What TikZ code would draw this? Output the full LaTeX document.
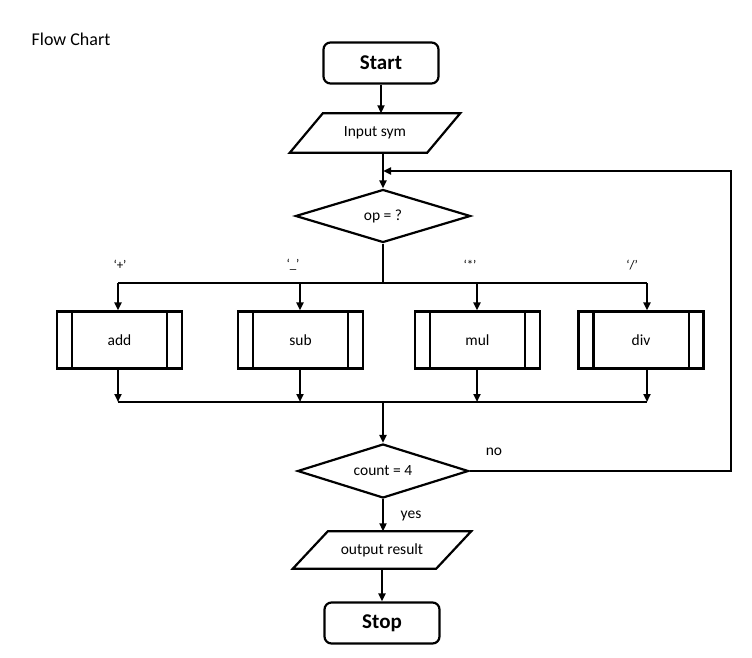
\documentclass[tikz,border=0pt]{standalone}
\usepackage{fontspec}
\setmainfont{Carlito}
\usetikzlibrary{shapes.geometric,arrows.meta}
\begin{document}
\begin{tikzpicture}[x=1pt,y=-1pt,
  every node/.style={font=\fontsize{15.5}{18}\selectfont},
  shp/.style={draw,line width=2.2pt,inner sep=0pt},
  term/.style={shp,rounded corners=7pt,minimum width=115pt,minimum height=41pt,font=\bfseries\fontsize{21}{24}\selectfont},
  iobox/.style={inner sep=0pt},
  dec/.style={shp,diamond,aspect=3.2},
  proc/.style={shp,minimum width=125pt,minimum height=57pt},
  conn/.style={line width=2.2pt},
  arr/.style={conn,-{Triangle[length=8pt,width=7pt]}},
  lbl/.style={font=\fontsize{13}{15}\selectfont}
]
\useasboundingbox (0,0) rectangle (752,658);
\node[font=\fontsize{18}{20}\selectfont] (title) at (71,39) {Flow Chart};

\node[term] (start) at (381,63) {Start};
\node[iobox,minimum width=137pt,minimum height=39pt] (input) at (375,133) {Input sym};
\draw[conn] ([xshift=16.5pt]input.north west) -- ([xshift=16.5pt]input.north east)
  -- ([xshift=-16.5pt]input.south east) -- ([xshift=-16.5pt]input.south west) -- cycle;
\node[dec,minimum width=175pt,minimum height=53pt] (op) at (383,216) {op = ?};

\node[proc] (add) at (119.5,340) {add};
\node[proc] (sub) at (300.5,340) {sub};
\node[proc] (mul) at (477.5,340) {mul};
\node[proc] (div) at (641,340) {div};
\foreach \b in {add,sub,mul,div}{
  \draw[conn] ([xshift=16pt]\b.north west) -- ([xshift=16pt]\b.south west);
  \draw[conn] ([xshift=-16pt]\b.north east) -- ([xshift=-16pt]\b.south east);
}

\node[dec,minimum width=171pt,minimum height=54pt] (count) at (383,471) {count = 4};
\node[iobox,minimum width=143pt,minimum height=37pt] (output) at (382,550) {output result};
\draw[conn] ([xshift=17.5pt]output.north west) -- ([xshift=17.5pt]output.north east)
  -- ([xshift=-17.5pt]output.south east) -- ([xshift=-17.5pt]output.south west) -- cycle;
\node[term] (stop) at (382,623) {Stop};

% labels
\node[lbl] (lp) at (120,265) {‘+’};
\node[lbl] (lm) at (293,265) {‘\_’};
\node[lbl] (lt) at (470,265) {‘*’};
\node[lbl] (ld) at (632,265) {‘/’};
\node (no) at (494,452) {no};
\node (yes) at (411,516) {yes};

% coordinates
\coordinate (join) at (383,171);
\coordinate (top) at (383,283);
\coordinate (b1) at (118,283);
\coordinate (b2) at (300,283);
\coordinate (b3) at (477,283);
\coordinate (b4) at (647,283);
\coordinate (m1) at (118,402);
\coordinate (m2) at (300,402);
\coordinate (m3) at (477,402);
\coordinate (m4) at (647,402);
\coordinate (mid) at (383,402);
\coordinate (rr) at (731,471);
\coordinate (rt) at (731,171);

% connectors
\draw[arr] (start.south) -- (start.south |- input.north);
\draw[conn] (input.south -| join) -- (join);
\draw[arr] (join) -- (op.north);
\draw[conn] (op.south) -- (top);
\draw[conn] (b1) -- (b4);
\draw[arr] (b1) -- (b1 |- add.north);
\draw[arr] (b2) -- (b2 |- sub.north);
\draw[arr] (b3) -- (b3 |- mul.north);
\draw[arr] (b4) -- (b4 |- div.north);
\draw[arr] (m1 |- add.south) -- (m1);
\draw[arr] (m2 |- sub.south) -- (m2);
\draw[arr] (m3 |- mul.south) -- (m3);
\draw[arr] (m4 |- div.south) -- (m4);
\draw[conn] (m1) -- (m4);
\draw[arr] (mid) -- (count.north);
\draw[arr] (count.east) -- (rr) -- (rt) -- (join);
\draw[arr] (count.south) -- (count.south |- output.north);
\draw[arr] (output.south -| stop) -- (stop.north);
\end{tikzpicture}
\end{document}
